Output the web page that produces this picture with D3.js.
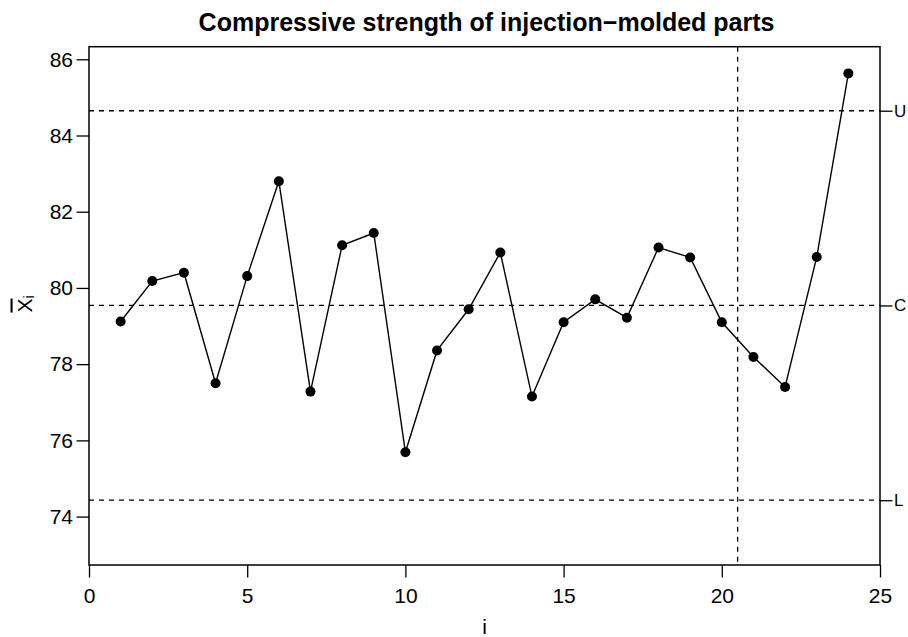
<!DOCTYPE html>
<html lang="en">
    <head>
        <meta charset="utf-8">
        <title>Compressive strength chart</title>
        <script type="text/javascript" src="https://cdn.jsdelivr.net/npm/d3@7"></script>
        <style>
          body { margin: 0; background: white; }
          text { font-family: "Liberation Sans", Arial, sans-serif; fill: black; }
        </style>
    </head>
    <body>
        <script type="text/javascript">

          // sample numbers and subgroup means
          var sampleIndex = [1, 2, 3, 4, 5, 6, 7, 8, 9, 10, 11, 12,
                             13, 14, 15, 16, 17, 18, 19, 20, 21, 22, 23, 24];
          var sampleMeans = [79.12, 80.18, 80.40, 77.50, 80.31, 82.80, 77.28, 81.12,
                             81.44, 75.69, 78.36, 79.44, 80.93, 77.15, 79.10, 79.70,
                             79.22, 81.06, 80.80, 79.10, 78.19, 77.40, 80.81, 85.63];

          // control limits (labels as far as they show) and the phase split
          var limitNames = ["U", "C", "L"];
          var limitValues = [84.65, 79.54, 74.43];
          var phaseSplit = [20.5];

          // tick labels
          var xTicks = [0, 5, 10, 15, 20, 25];
          var yTicks = [74, 76, 78, 80, 82, 84, 86];

          // create variables necessary for svg
          var width = 908;
          var height = 637;
          var leftSideChart = 89;
          var rightSideChart = 28;
          var topOfChart = 46.7;
          var bottomOfChart = 72;
          var tickLength = 12.5;

          var svg = d3.select("body")
            .append("svg")
            .attr("width", width)
            .attr("height", height);

          // scales
          var xScale = d3.scaleLinear()
                         .domain([0, 25])
                         .range([leftSideChart, width - rightSideChart]);
          var yScale = d3.scaleLinear()
                         .domain([72.73, 86.33])
                         .range([height - bottomOfChart, topOfChart]);

          // axes
          var xAxis = d3.axisBottom(xScale)
                        .tickValues(xTicks)
                        .tickSize(tickLength)
                        .tickPadding(10.5)
                        .tickSizeOuter(0);
          var yAxis = d3.axisLeft(yScale)
                        .tickValues(yTicks)
                        .tickSize(tickLength)
                        .tickPadding(3.5)
                        .tickSizeOuter(0);
          var rightAxis = d3.axisRight(yScale)
                            .tickValues(limitValues)
                            .tickFormat(function(d, i) { return limitNames[i]; })
                            .tickSize(tickLength)
                            .tickPadding(1.5)
                            .tickSizeOuter(0);

          var gx = svg.append("g")
             .attr("transform", "translate(" + [0, height - bottomOfChart] + ")")
             .call(xAxis);
          var gy = svg.append("g")
             .attr("transform", "translate(" + [leftSideChart, 0] + ")")
             .call(yAxis);
          var gr = svg.append("g")
             .attr("transform", "translate(" + [width - rightSideChart, 0] + ")")
             .call(rightAxis);

          [gx, gy, gr].forEach(function(g) {
            g.select(".domain").remove();
            g.selectAll("line").attr("stroke", "black").attr("stroke-width", 1.3);
            g.selectAll("text").style("font-size", "21px")
             .style("font-family", "'Liberation Sans', Arial, sans-serif");
          });
          // right labels sit at the page edge, keep them inside
          gr.selectAll("text").style("font-size", "17px");

          // plot box
          svg.append("rect")
             .attr("x", xScale(0))
             .attr("y", yScale(86.33))
             .attr("width", xScale(25) - xScale(0))
             .attr("height", yScale(72.73) - yScale(86.33))
             .attr("fill", "none")
             .attr("stroke", "black")
             .attr("stroke-width", 1.5);

          // dashed control limit lines
          svg.selectAll(".limit")
             .data(limitValues)
             .enter()
             .append("line")
             .attr("class", "limit")
             .attr("x1", xScale(0))
             .attr("x2", xScale(25))
             .attr("y1", function(d) { return yScale(d); })
             .attr("y2", function(d) { return yScale(d); })
             .attr("stroke", "black")
             .attr("stroke-width", 1.3)
             .attr("stroke-dasharray", "5,5");

          // dashed phase line
          svg.selectAll(".phase")
             .data(phaseSplit)
             .enter()
             .append("line")
             .attr("class", "phase")
             .attr("x1", function(d) { return xScale(d); })
             .attr("x2", function(d) { return xScale(d); })
             .attr("y1", yScale(86.33))
             .attr("y2", yScale(72.73))
             .attr("stroke", "black")
             .attr("stroke-width", 1.3)
             .attr("stroke-dasharray", "5,5");

          // line through the means
          var line = d3.line()
                       .x(function(d, i) { return xScale(sampleIndex[i]); })
                       .y(function(d) { return yScale(d); });

          svg.append("path")
             .datum(sampleMeans)
             .attr("d", line)
             .attr("fill", "none")
             .attr("stroke", "black")
             .attr("stroke-width", 1.4);

          svg.selectAll(".dot")
             .data(sampleMeans)
             .enter()
             .append("circle")
             .attr("class", "dot")
             .attr("cx", function(d, i) { return xScale(sampleIndex[i]); })
             .attr("cy", function(d) { return yScale(d); })
             .attr("r", 5)
             .attr("fill", "black");

          // title
          svg.append("text")
             .attr("x", (xScale(0) + xScale(25)) / 2 + 2)
             .attr("y", 30.5)
             .style("text-anchor", "middle")
             .style("font-size", "25px")
             .style("font-weight", "bold")
             .text("Compressive strength of injection\u2212molded parts");

          // x label
          svg.append("text")
             .attr("x", (xScale(0) + xScale(25)) / 2)
             .attr("y", 634)
             .style("text-anchor", "middle")
             .style("font-size", "21px")
             .text("i");

          // y label: X bar with subscript i
          var ylab = svg.append("text")
             .attr("transform", "translate(" + [31.5, 304] + ") rotate(-90)")
             .style("text-anchor", "middle")
             .style("font-size", "21px");
          ylab.append("tspan")
             .style("text-decoration", "overline")
             .text("X");
          ylab.append("tspan")
             .attr("dy", 2)
             .style("font-size", "14px")
             .text("i");

        </script>
    </body>
</html>
